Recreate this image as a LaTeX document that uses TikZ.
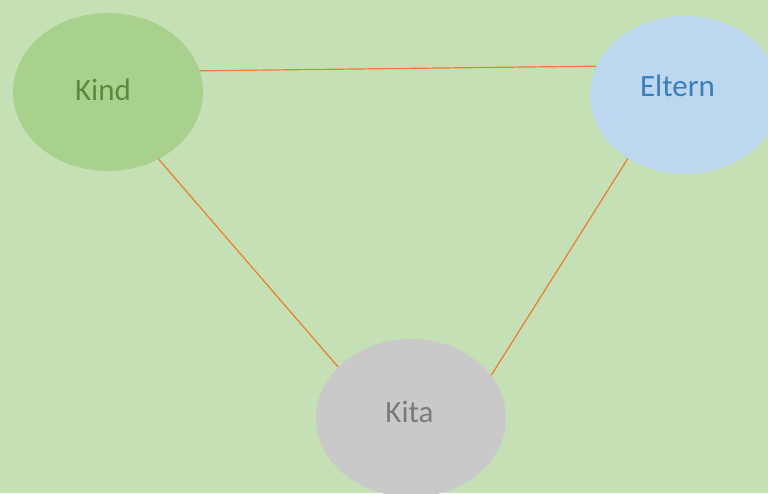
\documentclass[tikz,border=0pt]{standalone}
\usepackage{fontspec}
\setmainfont{Carlito}
\usetikzlibrary{shapes.geometric}
\definecolor{bg}{HTML}{C5E0B4}
\definecolor{kindfill}{HTML}{A9D18E}
\definecolor{elternfill}{HTML}{BDD7EE}
\definecolor{kitafill}{HTML}{C9C9C9}
\definecolor{kindtext}{HTML}{5A8A3C}
\definecolor{elterntext}{HTML}{3A7DBA}
\definecolor{kitatext}{HTML}{7A7A7A}
\definecolor{linkc}{HTML}{ED7D31}
\tikzset{
  bubble/.style={ellipse, minimum width=190pt, minimum height=158pt, inner sep=0pt, draw=none},
  lbl/.style={anchor=base, inner sep=0pt, font=\fontsize{31}{36}\selectfont},
  link/.style={draw=linkc, line width=1.2pt}
}
\begin{document}
\begin{tikzpicture}[x=1pt,y=1pt]
\useasboundingbox (0,0) rectangle (768,493);
\fill[bg] (0,0) rectangle (768,493);
\clip (0,0) rectangle (768,493);
\node[bubble, fill=kindfill] (kind) at (108,401) {};
\node[bubble, fill=elternfill] (eltern) at (685,398) {};
\node[bubble, fill=kitafill] (kita) at (411,75) {};
\node[lbl, text=kindtext] (kindl) at (103,392.3) {Kind};
\node[lbl, text=elterntext] (elternl) at (677.5,396.3) {Eltern};
\node[lbl, text=kitatext] (kital) at (409.5,70.3) {Kita};
\draw[link] (kind.13.4) -- (eltern.162.5);
\draw[link] (kind.-53.7) -- (kita.145.6);
\draw[link] (eltern.228.3) -- (kita.28.3);
\end{tikzpicture}
\end{document}
